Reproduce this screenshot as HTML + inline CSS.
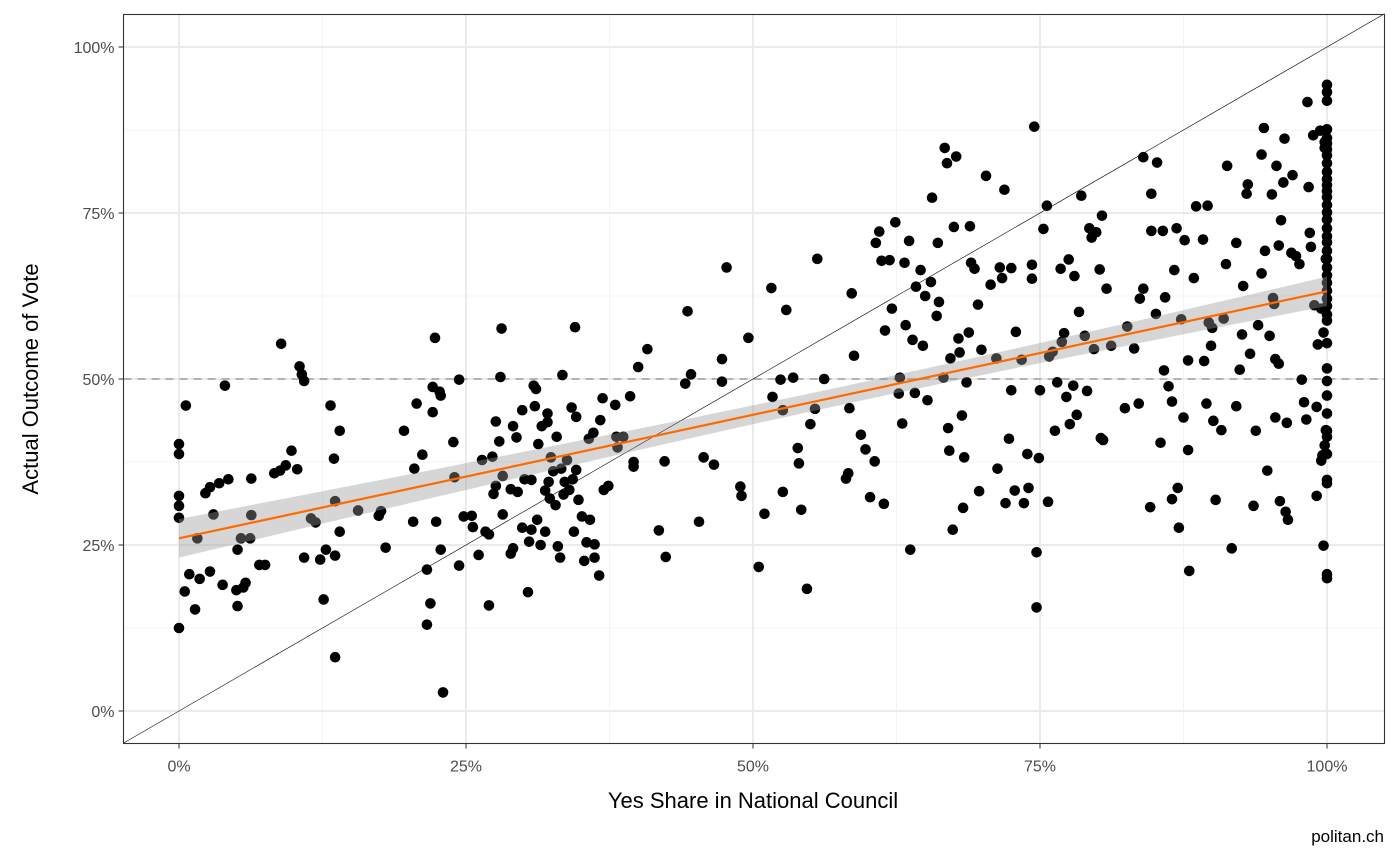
<!DOCTYPE html>
<html><head><meta charset="utf-8"><style>
html,body{margin:0;padding:0;background:#fff}
svg{display:block;font-family:"Liberation Sans",sans-serif}
</style></head><body>
<svg id="chart" width="1400" height="865">
<rect x="0" y="0" width="1400" height="865" fill="#fff"/>
<g id="grid"></g>
<g id="refs"></g>
<g id="pts"></g>
<g id="fit"></g>
<rect x="123.5" y="14.5" width="1261" height="729" fill="none" stroke="#333" stroke-width="1.1"/>
<g id="axes"></g>
<text x="753" y="808" text-anchor="middle" font-size="22" fill="#000">Yes Share in National Council</text>
<text transform="translate(38,379) rotate(-90)" text-anchor="middle" font-size="22" fill="#000">Actual Outcome of Vote</text>
<text x="1384" y="842" text-anchor="end" font-size="17" fill="#000">politan.ch</text>
</svg>
<script>
const xTicks=[0,25,50,75,100];
const yTicks=[0,25,50,75,100];
const tickLabels=["0%","25%","50%","75%","100%"];
const colX=[100];
const colY=[94.3,93.2,91.9,87.6,86.3,85.5,84.6,83.7,82.5,81.2,80.1,79.2,78.3,77.4,76.2,75.1,74,72.7,71.5,70.6,69.3,68.1,66.8,65.6,64.5,63.3,62.1,61,59.7,58.8,55.4,51.6,49.7,47.5,44.8,42.2,41.3,38.7,34.3,34.8,20.6,20];
const xVals=[0,0,0,0,0,0,0.6,0.9,0.5,1.4,1.6,1.8,2.3,2.7,2.7,3.0,3.5,3.8,4.0,4.3,5.0,5.1,5.1,5.4,5.6,5.8,6.2,6.3,6.3,7.0,7.5,8.3,8.8,8.9,9.3,9.8,10.3,10.5,10.7,10.9,10.9,11.5,11.9,12.3,12.6,12.8,13.2,13.5,13.6,13.6,13.6,14.0,14.0,15.6,17.4,17.6,18.0,19.6,20.4,20.5,20.7,21.2,21.6,21.6,21.9,22.1,22.1,22.3,22.4,22.7,22.8,22.8,23.0,23.9,24.0,24.4,24.4,24.8,25.5,25.6,26.1,26.4,26.7,27.0,27.0,27.3,27.4,27.6,27.6,27.9,28.0,28.1,28.2,28.2,28.9,28.9,29.1,29.1,29.4,29.5,29.9,29.9,30.1,30.4,30.5,30.7,30.7,30.9,31.0,31.1,31.2,31.3,31.5,31.6,31.9,31.9,32.1,32.1,32.2,32.3,32.4,32.6,32.8,32.9,33.0,33.2,33.3,33.4,33.5,33.6,33.8,34.0,34.2,34.3,34.4,34.5,34.6,34.6,34.8,35.1,35.3,35.5,35.7,35.8,36.1,36.2,36.2,36.6,36.7,36.9,37.0,37.4,38.0,38.1,38.2,38.7,39.3,39.6,39.6,40.0,40.8,41.8,42.3,42.4,44.1,44.3,44.6,45.3,45.7,46.6,47.3,47.3,47.7,48.9,49.0,49.6,50.5,51.0,51.6,51.7,52.4,52.6,52.6,52.9,53.5,53.9,54.0,54.2,54.7,55.0,55.4,55.6,56.2,58.1,58.3,58.4,58.6,58.8,59.4,59.8,60.2,60.6,60.7,61.0,61.2,61.4,61.5,61.9,62.1,62.4,62.7,62.8,63.0,63.2,63.3,63.6,63.7,63.9,64.1,64.2,64.6,64.8,65.0,65.2,65.6,65.5,66.0,66.1,66.2,66.6,66.7,66.9,67.0,67.1,67.2,67.4,67.5,67.7,67.9,68.0,68.2,68.3,68.4,68.6,68.8,68.9,69.0,69.3,69.6,69.7,69.9,70.3,70.7,71.2,71.3,71.5,71.7,71.9,72.0,72.3,72.5,72.5,72.8,72.9,73.4,73.6,73.9,74.0,74.3,74.3,74.5,74.7,74.9,74.7,75.0,75.3,75.6,75.7,75.8,76.1,76.3,76.5,76.8,76.9,77.1,77.3,77.5,77.6,77.9,78.0,78.2,78.4,78.6,78.9,79.1,79.3,79.5,79.7,79.9,80.2,80.4,80.3,80.5,80.8,81.2,82.4,82.6,83.2,83.6,83.7,84.0,84.0,84.6,84.7,84.7,85.1,85.2,85.5,85.7,85.8,85.9,86.2,86.5,86.5,86.7,86.9,87.0,87.1,87.3,87.5,87.6,87.9,87.9,88.0,88.4,88.6,89.2,89.3,89.5,89.6,89.7,89.9,90.0,90.1,90.3,90.8,91.0,91.2,91.3,91.7,92.1,92.1,92.4,92.6,92.7,93.0,93.1,93.3,93.6,93.8,94.0,94.3,94.3,94.5,94.6,94.8,95.0,95.2,95.3,95.4,95.5,95.5,95.6,95.8,95.8,95.9,96.0,96.2,96.3,96.4,96.5,96.6,96.9,97.0,97.3,97.6,97.8,98.0,98.2,98.3,98.4,98.5,98.6,98.8,98.9,99.1,99.1,99.2,99.4,99.5,99.7,99.8,99.9,99.6,99.7,99.8,99.8,99.9,99.5];
const yVals=[40.2,38.7,32.4,30.9,29.1,12.5,46.0,20.6,18.0,15.3,26,19.9,32.8,21,33.7,29.6,34.3,19,49,34.9,18.2,24.3,15.8,26,18.6,19.3,26,35,29.5,22,22,35.8,36.2,55.3,37,39.2,36.4,51.9,50.7,49.7,23.1,29,28.4,22.8,16.8,24.3,46,38,31.6,8.1,23.4,42.2,27,30.2,29.4,30.1,24.6,42.2,28.5,36.5,46.3,38.6,21.3,13,16.2,45,48.8,56.2,28.5,48.1,47.5,24.3,2.8,40.5,35.2,21.9,49.9,29.3,29.4,27.7,23.5,37.8,27,26.6,15.9,38.3,32.7,33.9,43.6,40.6,50.3,57.6,29.6,35.4,33.4,23.7,42.9,24.5,41.2,33,27.6,45.3,34.9,17.9,25.5,27.3,34.8,49,45.9,48.5,28.8,40.2,25,42.9,27,33.2,44.8,43.5,34.5,32,38.2,36.1,31,41.3,24.8,23.1,36.5,50.6,32.6,34.5,37.8,33.3,45.7,34.9,27,57.8,44.3,36.3,31.8,29.3,22.6,25.4,41,28.8,41.9,25.1,23.1,20.4,43.8,47.1,33.3,33.9,46.1,41.3,39.7,41.3,47.4,37.5,36.8,51.8,54.5,27.2,37.6,23.2,49.3,60.2,50.7,28.5,38.2,37.1,49.6,53,66.8,33.8,32.4,56.2,21.7,29.7,63.7,47.3,49.9,45.3,33,60.4,50.2,39.6,37.3,30.3,18.4,43.2,45.5,68.1,50,35,35.8,45.6,62.9,53.5,41.6,39.4,32.2,37.6,70.5,72.2,67.8,31.2,57.3,67.9,60.6,73.6,47.8,50.2,43.3,67.5,58.1,70.8,24.3,55.9,47.9,63.9,66.4,55,62.5,46.8,77.3,64.6,59.5,70.5,61.6,50.2,84.8,82.5,42.6,39.2,53.1,27.3,72.9,83.5,56.1,54,44.5,30.6,38.2,49.5,57,73,67.5,66.6,61.2,33.1,54.4,80.6,64.2,53.1,36.5,66.8,65.2,78.5,31.3,41,48.3,66.7,33.2,57.1,52.9,31.3,38.7,33.6,67.2,65.1,88,23.9,38.1,15.6,48.3,72.6,76.1,31.5,53.4,54.1,42.2,49.5,66.6,55.6,56.9,47.3,68,43.2,49,65.5,44.6,60.1,77.6,56.5,48.2,72.7,71.3,54.5,72.1,66.5,74.6,41.1,40.8,63.6,55,45.6,57.9,54.6,46.3,62.1,63.6,83.4,30.7,72.3,77.9,59.8,82.6,40.4,72.3,51.3,62.3,48.9,46.6,31.9,66.4,72.7,33.6,27.6,59,44.2,70.9,39.3,52.8,21.1,65.2,76,71,52.7,46.3,76.1,58.5,55,57.7,43.7,31.8,42.3,59.1,67.3,82.1,24.5,45.9,70.5,51.4,56.7,64,77.9,79.3,53.8,30.9,42.2,58.1,65.9,83.8,87.8,69.3,36.2,56.5,77.8,62.2,61.3,44.2,53,82.1,70.1,52.3,31.6,73.9,79.6,86.2,30,43.4,28.8,69,80.7,68.5,67.3,49.9,46.5,43.9,91.7,78.9,72,69.9,86.7,61.1,32.4,45.8,55.2,87.4,60.6,24.9,85.7,68.1,38.5,57,84.8,40,42.3,37.7];

const NS="http://www.w3.org/2000/svg";
const X0=179,XS=11.48,Y0=711,YS=6.64;
const xs=v=>X0+v*XS, ys=v=>Y0-v*YS;
const L=123.5,R=1384.5,T=14.5,B=743.5;
function mk(tag,attrs,parent){const e=document.createElementNS(NS,tag);for(const k in attrs)e.setAttribute(k,attrs[k]);parent.appendChild(e);return e;}
const grid=document.getElementById('grid'),refs=document.getElementById('refs'),pts=document.getElementById('pts'),fit=document.getElementById('fit'),axes=document.getElementById('axes');
// minor grid
for(let i=0;i<xTicks.length-1;i++){
  const m=(xTicks[i]+xTicks[i+1])/2;
  const g=mk('line',{x1:xs(m),x2:xs(m),y1:T,y2:B,stroke:'#f4f4f4','stroke-width':1},grid);
  
  
  const m2=(yTicks[i]+yTicks[i+1])/2;
  const h=mk('line',{x1:L,x2:R,y1:ys(m2),y2:ys(m2),stroke:'#f4f4f4','stroke-width':1},grid);
  
  
}
xTicks.forEach((t,i)=>{
  const g=mk('line',{x1:xs(t),x2:xs(t),y1:T,y2:B,stroke:'#ebebeb','stroke-width':2},grid);
  
  
  const tk=mk('line',{x1:xs(t),x2:xs(t),y1:B,y2:B+5,stroke:'#333','stroke-width':1},axes);
  
  
  const tx=mk('text',{x:xs(t),y:B+28,'text-anchor':'middle','font-size':16,fill:'#4d4d4d'},axes);
  tx.textContent=tickLabels[i];
  
  
});
yTicks.forEach((t,i)=>{
  const g=mk('line',{x1:L,x2:R,y1:ys(t),y2:ys(t),stroke:'#ebebeb','stroke-width':2},grid);
  
  
  const tk=mk('line',{x1:L-5,x2:L,y1:ys(t),y2:ys(t),stroke:'#333','stroke-width':1},axes);
  
  
  const tx=mk('text',{x:L-9,y:ys(t)+6,'text-anchor':'end','font-size':16,fill:'#4d4d4d'},axes);
  tx.textContent=tickLabels[i];
  
  
});
const hl=mk('line',{x1:L,x2:R,y1:ys(50),y2:ys(50),stroke:'#b3b3b3','stroke-width':2,'stroke-dasharray':'8,6'},refs);


const xmin=(L-X0)/XS,xmax=(R-X0)/XS;
const dl=mk('line',{x1:xs(xmin),y1:ys(xmin),x2:xs(xmax),y2:ys(xmax),stroke:'#000','stroke-width':0.6},refs);


// all points
const AX=xVals.slice(),AY=yVals.slice();
colY.forEach(v=>{AX.push(colX[0]);AY.push(v);});
AX.forEach((x,i)=>{
  const c=mk('circle',{cx:xs(Math.min(x,100)),cy:ys(AY[i]),r:5.3,fill:'#000'},pts);
  
  
});
// linear regression
const n=AX.length;let mx=0,my=0;AX.forEach((x,i)=>{mx+=x;my+=AY[i];});mx/=n;my/=n;
let sxx=0,sxy=0;AX.forEach((x,i)=>{sxx+=(x-mx)**2;sxy+=(x-mx)*(AY[i]-my);});
const b=sxy/sxx,a=my-b*mx;let sse=0;AX.forEach((x,i)=>{sse+=(AY[i]-a-b*x)**2;});
const s=Math.sqrt(sse/(n-2));
const lo=Math.min(...AX),hi=Math.max(...AX);
const up=[],dn=[];
for(let k=0;k<=40;k++){const x=lo+(hi-lo)*k/40;const y=a+b*x;const se=1.96*s*Math.sqrt(1/n+(x-mx)**2/sxx);up.push(xs(x)+','+ys(y+se));dn.unshift(xs(x)+','+ys(y-se));}
const band=mk('polygon',{points:up.concat(dn).join(' '),fill:'#999','fill-opacity':0.4},fit);


const fl=mk('line',{x1:xs(lo),y1:ys(a+b*lo),x2:xs(hi),y2:ys(a+b*hi),stroke:'#ff6a00','stroke-width':2.2},fit);


</script>
</body></html>
